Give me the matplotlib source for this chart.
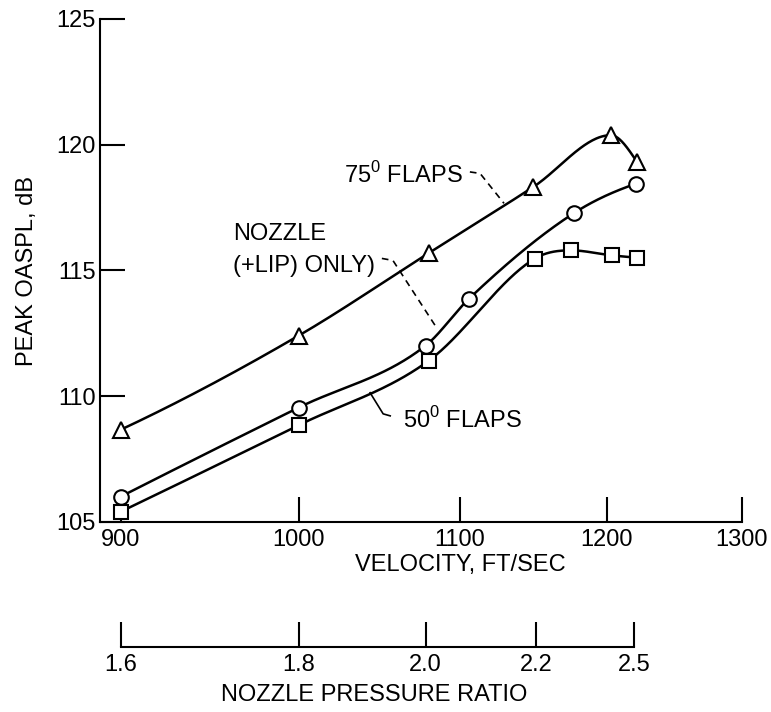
import matplotlib
matplotlib.use("Agg")
import matplotlib.pyplot as plt
import numpy as np
from matplotlib.ticker import NullLocator

plt.rcParams["font.family"] = ["Liberation Sans Narrow", "Liberation Sans", "DejaVu Sans"]
plt.rcParams["mathtext.fontset"] = "custom"
plt.rcParams["mathtext.rm"] = "Liberation Sans"

# data
vel_75 = [900, 1000, 1080, 1149, 1203, 1222]
spl_75 = [108.67, 112.41, 115.69, 118.32, 120.38, 119.31]

vel_nozzle = [900, 1000, 1078, 1106, 1177, 1221]
spl_nozzle = [106.01, 109.55, 112.01, 113.87, 117.28, 118.45]

vel_50 = [900, 1000, 1080, 1150, 1175, 1204, 1222]
spl_50 = [105.41, 108.85, 111.41, 115.47, 115.80, 115.60, 115.51]

vel_ticks = [900, 1000, 1100, 1200, 1300]
spl_ticks = [105, 110, 115, 120, 125]

npr_labels = ["1.6", "1.8", "2.0", "2.2", "2.5"]
npr_velocity = [900, 1000, 1078, 1151, 1220]

FS = 17
W, H = 771, 712


def _end_slope(h0, h1, m0, m1):
    d = ((2 * h0 + h1) * m0 - h0 * m1) / (h0 + h1)
    if np.sign(d) != np.sign(m0):
        d = 0.0
    elif np.sign(m0) != np.sign(m1) and abs(d) > abs(3 * m0):
        d = 3 * m0
    return d


def smooth_curve(ax, xs, ys, n=60):
    """cubic hermite through the points (averaged secants, no overshoot),
    done in display space"""
    pts = ax.transData.transform(np.column_stack([xs, ys]))
    x, y = pts[:, 0], pts[:, 1]
    h = np.diff(x)
    m = np.diff(y) / h
    d = np.zeros_like(y)
    for k in range(1, len(x) - 1):
        if m[k - 1] * m[k] > 0:
            d[k] = 0.5 * (m[k - 1] + m[k])
    d[0] = _end_slope(h[0], h[1], m[0], m[1])
    d[-1] = _end_slope(h[-1], h[-2], m[-1], m[-2])
    # fritsch-carlson limiter
    for k in range(len(m)):
        if m[k] == 0:
            d[k] = d[k + 1] = 0.0
            continue
        a, b = d[k] / m[k], d[k + 1] / m[k]
        s = a * a + b * b
        if s > 9:
            tau = 3 / np.sqrt(s)
            d[k], d[k + 1] = tau * a * m[k], tau * b * m[k]
    cx, cy = [], []
    for k in range(len(x) - 1):
        t = np.linspace(0, 1, n)
        h00 = 2 * t**3 - 3 * t**2 + 1
        h10 = t**3 - 2 * t**2 + t
        h01 = -2 * t**3 + 3 * t**2
        h11 = t**3 - t**2
        cx.append(x[k] + t * h[k])
        cy.append(h00 * y[k] + h10 * h[k] * d[k] + h01 * y[k + 1] + h11 * h[k] * d[k + 1])
    curve = ax.transData.inverted().transform(np.column_stack([np.concatenate(cx), np.concatenate(cy)]))
    return curve[:, 0], curve[:, 1]


fig = plt.figure(figsize=(W / 100, H / 100), dpi=100)
left, right = 100 / W, 741.7 / W
ax = fig.add_axes([left, 1 - 522 / H, right - left, (522 - 19) / H])

ax.set_xscale("log")
ax.set_xlim(889, 1300)
ax.set_ylim(105, 125)
ax.spines["top"].set_visible(False)
ax.spines["right"].set_visible(False)
for s in ("left", "bottom"):
    ax.spines[s].set_linewidth(1.5)

ax.set_xticks(vel_ticks)
ax.set_xticklabels([str(v) for v in vel_ticks])
ax.xaxis.set_minor_locator(NullLocator())
ax.set_yticks(spl_ticks)
ax.set_yticklabels([str(v) for v in spl_ticks])
ax.tick_params(direction="in", length=18, width=1.5, labelsize=FS, pad=5)
ax.tick_params(axis="y", pad=3)

series = [
    (vel_75, spl_75, "^", 11),
    (vel_nozzle, spl_nozzle, "o", 10.5),
    (vel_50, spl_50, "s", 10.5),
]
for xs, ys, mk, ms in series:
    cx, cy = smooth_curve(ax, xs, ys)
    ax.plot(cx, cy, color="black", lw=1.8, zorder=2)
    ax.plot(xs, ys, linestyle="none", marker=mk, markersize=ms,
            markerfacecolor="white", markeredgecolor="black",
            markeredgewidth=1.5, zorder=3)

# labels with leader lines
ax.text(1102, 118.48, r"75$^{\mathregular{0}}$ FLAPS", fontsize=FS,
        ha="right", va="baseline")
ax.plot([1106.7, 1113.4, 1129.3], [118.92, 118.86, 117.67],
        color="black", lw=1.2, ls=(0, (4, 3)))

ax.text(962, 116.2, "NOZZLE", fontsize=FS, ha="left", va="baseline")
ax.text(962, 114.96, "(+LIP) ONLY)", fontsize=FS, ha="left", va="baseline")
ax.plot([1050.5, 1057.4, 1084.2], [115.48, 115.40, 112.81],
        color="black", lw=1.2, ls=(0, (4, 3)))

ax.text(1063.5, 108.76, r"50$^{\mathregular{0}}$ FLAPS", fontsize=FS,
        ha="left", va="baseline")
ax.plot([1043.2, 1051.3, 1055.7], [110.14, 109.30, 109.22],
        color="black", lw=1.2)

ax.set_xlabel("VELOCITY, FT/SEC", fontsize=FS)
ax.xaxis.set_label_coords((460 - 100) / 641.7, (522 - 554) / 503)
ax.set_ylabel("PEAK OASPL, dB", fontsize=FS)
ax.yaxis.set_label_coords((38 - 100) / 641.7, 0.5)

# secondary scale: nozzle pressure ratio
ax2_h = 0.04
ax2 = fig.add_axes([left, 1 - 646.7 / H, right - left, ax2_h])
ax2.set_xscale("log")
ax2.set_xlim(889, 1300)
ax2.set_ylim(0, 1)
ax2.patch.set_visible(False)
for s in ("top", "left", "right"):
    ax2.spines[s].set_visible(False)
ax2.spines["bottom"].set_bounds(npr_velocity[0], npr_velocity[-1])
ax2.spines["bottom"].set_linewidth(1.5)
ax2.set_yticks([])
ax2.set_xticks(npr_velocity)
ax2.set_xticklabels(npr_labels)
ax2.xaxis.set_minor_locator(NullLocator())
ax2.tick_params(direction="in", length=18, width=1.5, labelsize=FS, pad=5)
ax2.set_xlabel("NOZZLE PRESSURE RATIO", fontsize=FS)
ax2.xaxis.set_label_coords((374 - 100) / 641.7, -(684 - 646.7) / (ax2_h * H))

fig.savefig("out.png", dpi=100)
plt.close(fig)
